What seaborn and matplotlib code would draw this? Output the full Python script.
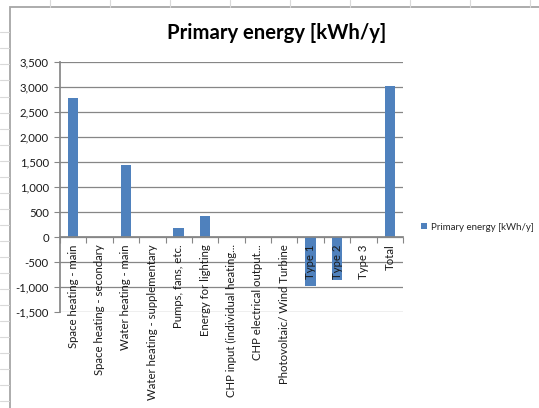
import matplotlib
matplotlib.use("Agg")
import matplotlib.pyplot as plt
from matplotlib.lines import Line2D
from matplotlib.patches import Rectangle
from matplotlib.ticker import FuncFormatter, FixedLocator
import seaborn as sns
import pandas as pd

# Primary energy breakdown by end use
categories = [
    "Space heating - main",
    "Space heating - secondary",
    "Water heating - main",
    "Water heating - supplementary",
    "Pumps, fans, etc.",
    "Energy for lighting",
    "CHP input (individual heating...",
    "CHP electrical output...",
    "Photovoltaic/ Wind Turbine",
    "Type 1",
    "Type 2",
    "Type 3",
    "Total",
]
values = [2790, 0, 1450, 0, 195, 420, 0, 0, 0, -970, -855, 0, 3030]
series_name = "Primary energy [kWh/y]"
y_ticks = [-1500, -1000, -500, 0, 500, 1000, 1500, 2000, 2500, 3000, 3500]

df = pd.DataFrame({"category": categories, "value": values})

sns.set_theme(style="white")
plt.rcParams["font.family"] = ["Lato", "DejaVu Sans"]

W, H = 539, 408
fig = plt.figure(figsize=(W / 100, H / 100), dpi=100)
fig.patch.set_facecolor("white")

# worksheet cell grid behind the chart object
grid_col = "#d9d9d9"
for x in range(50, 540, 60):
    fig.add_artist(Line2D([x / W, x / W], [1, 1 - 7 / H], color=grid_col, lw=0.8))
y = 32.3
while y < H:
    fig.add_artist(Line2D([0, 9 / W], [1 - y / H, 1 - y / H], color=grid_col, lw=0.8))
    y += 16.05

# chart object border
fig.add_artist(Rectangle((9.5 / W, -0.05), 1.1, 1.05 - 7 / H, transform=fig.transFigure,
                         fill=False, edgecolor="#a6a6a6", lw=1.3))

# plot area
left, right = 60, 403
top, bottom = 62.3, 312.3
ax = fig.add_axes([left / W, 1 - bottom / H, (right - left) / W, (bottom - top) / H])
ax.set_facecolor("none")

axis_col = "#868686"
# horizontal gridlines sit behind the bars
for t in y_ticks:
    ax.axhline(t, color=axis_col, lw=0.9, zorder=0.5)

sns.barplot(data=df, x="category", y="value", color="#4F81BD", width=0.4,
            linewidth=0, saturation=1, label=series_name, ax=ax, zorder=2)

ax.set_xlim(-0.5, len(categories) - 0.5)
ax.set_ylim(y_ticks[0], y_ticks[-1])
ax.set_xlabel("")
ax.set_ylabel("")
ax.grid(False)

ax.yaxis.set_major_locator(FixedLocator(y_ticks))
ax.yaxis.set_major_formatter(FuncFormatter(lambda v, p: f"{int(v):,}"))

for s in ["top", "right"]:
    ax.spines[s].set_visible(False)
ax.spines["left"].set_color(axis_col)
ax.spines["bottom"].set_color(axis_col)
ax.spines["bottom"].set_position(("data", 0))

ax.tick_params(axis="y", which="major", direction="out", length=4, width=0.8,
               color=axis_col, labelsize=8.2, labelcolor="#1a1a1a", pad=4, left=True)
ax.set_xticks(range(len(categories)))
ax.set_xticklabels(categories, rotation=90, ha="center", va="top")
ax.set_xticks([i - 0.5 for i in range(len(categories) + 1)], minor=True)
ax.tick_params(axis="x", which="major", length=0, labelsize=8.2, labelcolor="#1a1a1a",
               pad=5, bottom=True)
ax.tick_params(axis="x", which="minor", direction="out", length=4, width=0.8,
               color=axis_col, bottom=True)
# category labels are drawn over the negative bars
ax.xaxis.set_zorder(5)
ax.yaxis.set_zorder(5)

leg = ax.legend(loc="center left", bbox_to_anchor=(421 / W, 1 - 227 / H),
                bbox_transform=fig.transFigure, frameon=False, fontsize=7.0,
                handlelength=0.6, handleheight=0.6, handletextpad=0.4, borderpad=0,
                borderaxespad=0)

fig.text(277 / W, 1 - 33 / H, "Primary energy [kWh/y]", ha="center", va="center",
         fontsize=14.6, fontweight="bold", color="#000000")

fig.savefig("out.png", dpi=100)
